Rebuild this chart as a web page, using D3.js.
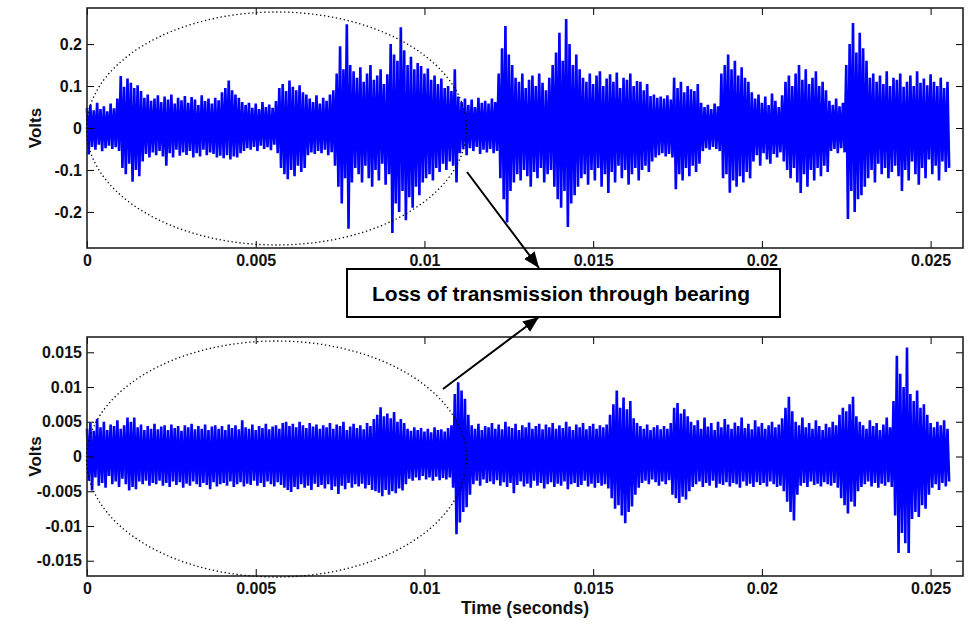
<!DOCTYPE html>
<html><head><meta charset="utf-8">
<script src="https://cdn.jsdelivr.net/npm/d3@7"></script>
<style>
html,body{margin:0;padding:0;background:#fff;}
svg{display:block;font-family:"Liberation Sans",Arial,Helvetica,sans-serif;font-weight:bold;}
</style></head>
<body>
<svg id="chart" width="968" height="624"></svg>
<script>
// ---------------- data ----------------
const TIME_TICKS = [0, 0.005, 0.01, 0.015, 0.02, 0.025];
const TIME_LABELS = ["0", "0.005", "0.01", "0.015", "0.02", "0.025"];
const TOP_TICKS = [-0.2, -0.1, 0, 0.1, 0.2];
const TOP_LABELS = ["-0.2", "-0.1", "0", "0.1", "0.2"];
const BOT_TICKS = [-0.015, -0.01, -0.005, 0, 0.005, 0.01, 0.015];
const BOT_LABELS = ["-0.015", "-0.01", "-0.005", "0", "0.005", "0.01", "0.015"];
const X_TITLE = "Time (seconds)";
const Y_TITLE = "Volts";
const NOTE = "Loss of transmission through bearing";

// signal, read per 0.0001 s window: local peak and trough
const WINDOW_S = 0.0001;
// top trace, millivolts
const topPeaks_mV = [
48,55,42,60,45,52,40,58,47,70,
124,98,118,108,95,102,88,72,80,65,
70,78,62,75,68,80,58,72,66,76,
60,74,68,55,78,64,70,58,72,66,
85,95,113,90,80,72,62,55,60,48,
58,45,62,50,56,48,64,95,105,88,
113,98,90,102,85,80,70,62,78,58,
72,65,80,90,130,195,140,247,150,135,
120,145,110,130,150,115,125,140,105,128,
200,175,160,240,185,150,170,140,155,148,
130,142,115,125,105,118,95,100,88,140,
75,62,70,55,68,50,72,60,65,58,
70,62,130,190,243,175,150,120,110,130,
95,115,125,100,130,108,90,120,150,180,
227,160,260,200,150,175,140,120,110,130,
105,125,135,100,118,128,110,132,95,120,
115,130,100,112,110,90,105,76,80,72,
75,70,78,68,120,95,110,85,100,92,
88,105,60,50,55,45,58,52,130,150,
175,140,160,125,145,120,110,85,70,80,
60,75,55,82,65,50,78,110,125,100,
130,150,115,140,105,120,135,100,110,90,
65,55,70,52,60,150,200,250,180,227,
190,160,120,130,110,125,105,135,100,120,
115,130,98,110,125,100,135,108,118,102,
128,110,100,120,95,110];
const topTroughs_mV = [
-63,-45,-52,-40,-55,-48,-42,-50,-46,-55,
-95,-110,-85,-128,-100,-115,-80,-62,-70,-58,
-65,-55,-68,-90,-60,-70,-52,-66,-58,-64,
-55,-70,-60,-68,-52,-65,-58,-62,-70,-66,
-72,-65,-75,-68,-70,-60,-55,-48,-52,-45,
-55,-42,-50,-46,-53,-40,-60,-95,-110,-122,
-100,-115,-90,-105,-95,-65,-58,-62,-55,-60,
-52,-65,-58,-90,-140,-180,-120,-240,-130,-95,
-110,-130,-90,-120,-140,-100,-125,-85,-135,-110,
-250,-180,-200,-150,-220,-165,-190,-140,-160,-130,
-120,-110,-125,-95,-105,-85,-100,-80,-90,-130,
-60,-50,-65,-48,-55,-45,-62,-52,-58,-50,
-60,-55,-120,-170,-225,-150,-130,-110,-125,-100,
-115,-140,-105,-120,-95,-130,-110,-100,-140,-170,
-190,-150,-236,-180,-160,-140,-120,-110,-135,-100,
-125,-95,-140,-110,-155,-105,-130,-90,-120,-100,
-135,-110,-95,-125,-100,-90,-105,-80,-70,-65,
-60,-68,-62,-70,-146,-110,-125,-95,-115,-90,
-105,-85,-55,-48,-52,-45,-50,-55,-120,-110,
-154,-125,-140,-115,-130,-105,-120,-80,-65,-90,
-60,-75,-85,-62,-70,-58,-80,-100,-120,-95,
-130,-155,-110,-140,-100,-125,-95,-115,-90,-105,
-55,-50,-60,-48,-58,-217,-150,-200,-170,-160,
-140,-120,-100,-130,-85,-110,-95,-120,-105,-90,
-115,-150,-100,-125,-80,-110,-135,-95,-120,-75,
-110,-90,-125,-80,-105,-95];
// bottom trace, units of 0.1 mV
const botPeaks_01mV = [
40,48,37,54,42,50,38,46,44,52,
40,45,56,50,56,42,46,38,44,40,
47,39,43,45,38,46,41,44,37,45,
42,47,39,44,40,46,38,43,45,40,
44,38,46,41,45,39,52,42,40,46,
38,44,41,47,39,43,45,40,48,50,
44,47,42,50,45,41,48,43,46,40,
45,42,48,40,46,44,50,38,43,47,
41,45,39,48,44,54,60,71,58,62,
55,64,50,54,48,40,37,42,38,41,
36,40,35,42,38,39,36,41,45,90,
107,95,83,60,45,40,47,38,44,42,
48,40,46,39,50,43,41,47,38,45,
42,49,40,44,47,39,46,42,48,40,
45,41,50,43,38,46,42,48,39,44,
47,40,45,42,46,60,75,95,70,85,
68,80,55,48,44,40,46,38,42,45,
39,44,40,48,70,77,62,68,58,50,
45,52,40,56,43,48,38,50,42,54,
46,40,49,44,56,41,47,39,52,43,
48,40,45,50,42,46,55,70,86,65,
50,45,56,42,48,40,52,44,38,47,
42,50,45,60,70,65,75,86,58,50,
45,40,52,44,48,38,46,56,42,80,
145,119,100,157,90,80,95,70,75,60,
48,42,50,45,52,40];
const botTroughs_01mV = [
-35,-49,-30,-42,-38,-45,-28,-40,-36,-44,
-32,-40,-49,-44,-47,-36,-40,-35,-42,-38,
-40,-35,-42,-38,-44,-36,-41,-37,-45,-39,
-42,-36,-40,-44,-38,-41,-47,-37,-43,-40,
-38,-42,-36,-44,-40,-37,-43,-39,-41,-35,
-42,-38,-44,-36,-40,-43,-37,-41,-45,-48,
-51,-44,-47,-40,-45,-42,-48,-39,-44,-41,
-46,-40,-48,-43,-54,-42,-47,-38,-45,-40,
-43,-39,-46,-41,-48,-50,-52,-57,-48,-55,
-50,-53,-46,-49,-40,-32,-35,-30,-34,-28,
-33,-30,-35,-29,-34,-31,-33,-30,-45,-112,
-95,-80,-73,-55,-40,-35,-42,-33,-38,-36,
-40,-34,-42,-37,-44,-38,-53,-41,-36,-43,
-39,-45,-35,-42,-38,-46,-40,-37,-44,-39,
-42,-36,-47,-40,-38,-44,-41,-35,-43,-39,
-45,-38,-42,-40,-46,-60,-75,-70,-85,-96,
-80,-72,-55,-45,-38,-35,-40,-33,-37,-42,
-36,-40,-34,-55,-60,-67,-58,-62,-50,-44,
-40,-36,-44,-38,-42,-35,-45,-39,-41,-37,
-43,-38,-40,-45,-36,-42,-39,-44,-37,-41,
-38,-43,-36,-40,-44,-42,-50,-65,-80,-92,
-55,-42,-38,-44,-36,-41,-39,-43,-37,-40,
-42,-38,-45,-60,-70,-82,-65,-72,-50,-44,
-40,-36,-43,-38,-45,-39,-42,-37,-44,-85,
-139,-110,-125,-139,-90,-80,-87,-70,-75,-55,
-45,-40,-48,-38,-43,-36];

// ---------------- drawing ----------------
const svg = d3.select("#chart");
const FONT = 16;
const X_MAX = 0.02596;
const left = 87, right = 963;

const panels = [
  {top: 8, bottom: 248, dom: [-0.286, 0.286], ticks: TOP_TICKS, labels: TOP_LABELS,
   peaks: topPeaks_mV, troughs: topTroughs_mV, unit: 0.001,
   ell: {cx: 276.5, cy: 128.5, rx: 190, ry: 116.5}},
  {top: 337, bottom: 576, dom: [-0.0172, 0.0172], ticks: BOT_TICKS, labels: BOT_LABELS,
   peaks: botPeaks_01mV, troughs: botTroughs_01mV, unit: 0.0001,
   ell: {cx: 276.5, cy: 459, rx: 190, ry: 118}}
];

const x = d3.scaleLinear().domain([0, X_MAX]).range([left, right]);

panels.forEach((p, k) => {
  const y = d3.scaleLinear().domain(p.dom).range([p.bottom, p.top]);
  const g = svg.append("g");

  // signal
  const pts = [];
  p.peaks.forEach((v, i) => {
    pts.push([i * WINDOW_S, v * p.unit]);
    pts.push([i * WINDOW_S + WINDOW_S / 2, p.troughs[i] * p.unit]);
  });
  g.append("path")
    .attr("d", d3.line().x(d => x(d[0])).y(d => y(d[1]))(pts))
    .attr("fill", "none").attr("stroke", "#0000ff").attr("stroke-width", 2.6)
    .attr("stroke-linejoin", "bevel");

  // axes
  const fmtX = d => TIME_LABELS[TIME_TICKS.indexOf(d)];
  const fmtY = d => p.labels[p.ticks.indexOf(d)];
  const styleAxis = sel => {
    sel.select(".domain").remove();
    sel.selectAll(".tick line").attr("stroke", "#000").attr("stroke-width", 1);
    sel.selectAll("text").attr("font-size", FONT).attr("font-weight", "bold")
      .attr("font-family", '"Liberation Sans",Arial,sans-serif').attr("fill", "#111");
  };
  g.append("g").attr("transform", `translate(0,${p.bottom})`)
    .call(d3.axisBottom(x).tickValues(TIME_TICKS).tickFormat(fmtX).tickSize(-7).tickSizeOuter(0).tickPadding(7))
    .call(styleAxis);
  g.append("g").attr("transform", `translate(0,${p.top})`)
    .call(d3.axisTop(x).tickValues(TIME_TICKS).tickFormat("").tickSize(-7).tickSizeOuter(0))
    .call(styleAxis);
  g.append("g").attr("transform", `translate(${left},0)`)
    .call(d3.axisLeft(y).tickValues(p.ticks).tickFormat(fmtY).tickSize(-7).tickSizeOuter(0).tickPadding(5))
    .call(styleAxis);
  g.append("g").attr("transform", `translate(${right},0)`)
    .call(d3.axisRight(y).tickValues(p.ticks).tickFormat("").tickSize(-7).tickSizeOuter(0))
    .call(styleAxis);

  // frame
  g.append("rect").attr("x", left).attr("y", p.top)
    .attr("width", right - left).attr("height", p.bottom - p.top)
    .attr("fill", "none").attr("stroke", "#222").attr("stroke-width", 1.6);

  // y title
  g.append("text")
    .attr("transform", `translate(41,${(p.top + p.bottom) / 2}) rotate(-90)`)
    .attr("text-anchor", "middle").attr("font-size", 17).attr("fill", "#111")
    .text(Y_TITLE);

  // dotted ellipse
  g.append("ellipse").attr("cx", p.ell.cx).attr("cy", p.ell.cy)
    .attr("rx", p.ell.rx).attr("ry", p.ell.ry)
    .attr("fill", "none").attr("stroke", "#000").attr("stroke-width", 1.3)
    .attr("stroke-dasharray", "1.3 2.7");
});

// x title
svg.append("text").attr("x", 525).attr("y", 614).attr("text-anchor", "middle")
  .attr("font-size", 17.5).attr("fill", "#111").text(X_TITLE);

// annotation box
svg.append("rect").attr("x", 347).attr("y", 269).attr("width", 433).attr("height", 48)
  .attr("fill", "#fff").attr("stroke", "#000").attr("stroke-width", 2);
svg.append("text").attr("x", 561).attr("y", 300.5).attr("text-anchor", "middle")
  .attr("font-size", 21).attr("fill", "#000").text(NOTE);

// arrows
const defs = svg.append("defs");
defs.append("marker").attr("id", "ah").attr("markerUnits", "userSpaceOnUse")
  .attr("markerWidth", 18).attr("markerHeight", 14).attr("refX", 16).attr("refY", 6.5)
  .attr("orient", "auto")
  .append("path").attr("d", "M0,0 L16,6.5 L0,13 Z").attr("fill", "#000");
[[467, 172, 539, 268], [443, 389, 539, 317]].forEach(a => {
  svg.append("line").attr("x1", a[0]).attr("y1", a[1]).attr("x2", a[2]).attr("y2", a[3])
    .attr("stroke", "#000").attr("stroke-width", 2).attr("marker-end", "url(#ah)");
});
</script>
</body></html>
